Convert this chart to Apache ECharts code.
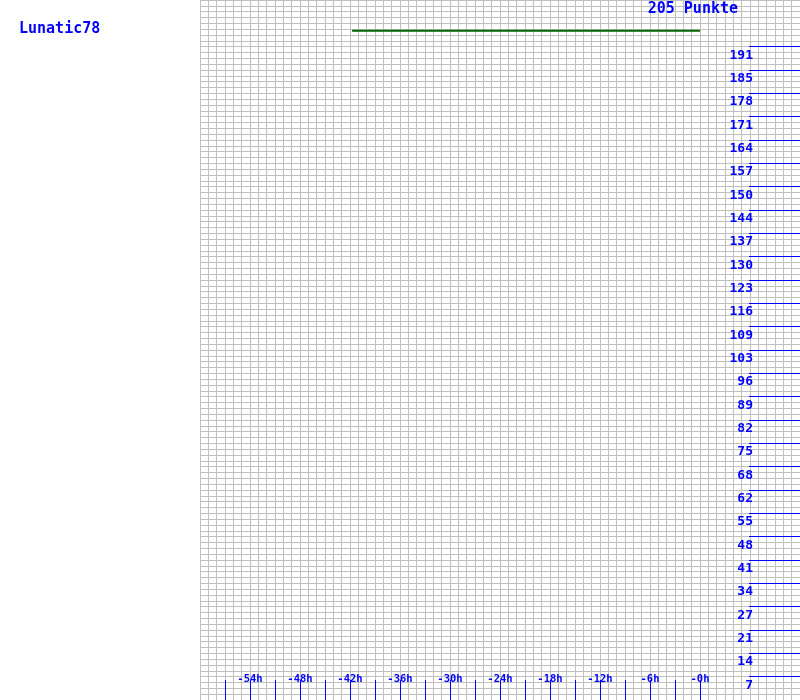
<!DOCTYPE html>
<html><head><meta charset="utf-8">
<script src="https://cdn.jsdelivr.net/npm/echarts@6/dist/echarts.min.js"></script>
<style>html,body{margin:0;padding:0;background:#fff}#c{width:800px;height:700px}</style>
</head><body><div id="c"></div>
<script>
var playerName = 'Lunatic78';
var maxPoints = 205;
var maxLabel = '205 Punkte';
var hours = [-41.75, -36, -30, -24, -18, -12, -6, 0];
var points = [196, 196, 196, 196, 196, 196, 196, 196];
var xTickValues = [-57,-54,-51,-48,-45,-42,-39,-36,-33,-30,-27,-24,-21,-18,-15,-12,-9,-6,-3,0];
var xLabelValues = [-54,-48,-42,-36,-30,-24,-18,-12,-6,0];
var yLabels = ['7','14','21','27','34','41','48','55','62','68','75','82','89','96','103','109','116','123','130','137','144','150','157','164','171','178','185','191'];

var step = maxPoints / 30;
var yTickValues = yLabels.map(function(_, i){ return (i + 1) * step; });
var font = 'DejaVu Sans Mono';
var blue = '#0000ff';

var chart = echarts.init(document.getElementById('c'));
chart.setOption({
  animation: false,
  backgroundColor: '#fff',
  title: [
    {text: playerName, left: 19, top: 22, padding: 0,
     textStyle: {fontFamily: font, fontSize: 15, fontWeight: 'bold', color: blue}},
    {text: maxLabel, right: 62, top: 2, padding: 0,
     textStyle: {fontFamily: font, fontSize: 15, fontWeight: 'bold', color: blue}}
  ],
  grid: {left: 200, right: 0, top: 0, bottom: 0, containLabel: false},
  xAxis: [
    {type: 'value', min: -60, max: 12, interval: 1, z: 0,
     axisLine: {show: false, onZero: false}, axisTick: {show: false}, axisLabel: {show: false},
     splitLine: {show: true, lineStyle: {color: '#c0c0c0', width: 1}}},
    {type: 'value', min: -60, max: 12, interval: 3, position: 'bottom', z: 10,
     axisLine: {show: false, onZero: false},
     axisTick: {show: true, inside: true, length: 20, customValues: xTickValues,
                lineStyle: {color: blue, width: 1}},
     axisLabel: {show: true, inside: true, margin: 15, customValues: xLabelValues,
                 fontFamily: font, fontSize: 10.5, fontWeight: 'bold', color: blue,
                 formatter: function(v){ return '-' + Math.abs(v) + 'h'; }},
     splitLine: {show: false}}
  ],
  yAxis: [
    {type: 'value', min: 0, max: maxPoints, interval: maxPoints / 120, z: 0,
     axisLine: {show: false, onZero: false}, axisTick: {show: false}, axisLabel: {show: false},
     splitLine: {show: true, lineStyle: {color: '#c0c0c0', width: 1}}},
    {type: 'value', min: 0, max: maxPoints, interval: step, position: 'right', z: 10,
     axisLine: {show: false, onZero: false},
     axisTick: {show: true, inside: true, length: 51, customValues: yTickValues,
                lineStyle: {color: blue, width: 1}},
     axisLabel: {show: true, inside: true, margin: 47, customValues: yTickValues,
                 verticalAlign: 'top', padding: [2, 0, 0, 0],
                 fontFamily: font, fontSize: 13, fontWeight: 'bold', color: blue,
                 formatter: function(v){ return yLabels[Math.round(v / step) - 1]; }},
     splitLine: {show: false}}
  ],
  series: [{
    type: 'line', xAxisIndex: 0, yAxisIndex: 0, z: 5,
    data: hours.map(function(h, i){ return [h, points[i]]; }),
    symbol: 'none', lineStyle: {color: '#006400', width: 2}
  }]
});
</script></body></html>
